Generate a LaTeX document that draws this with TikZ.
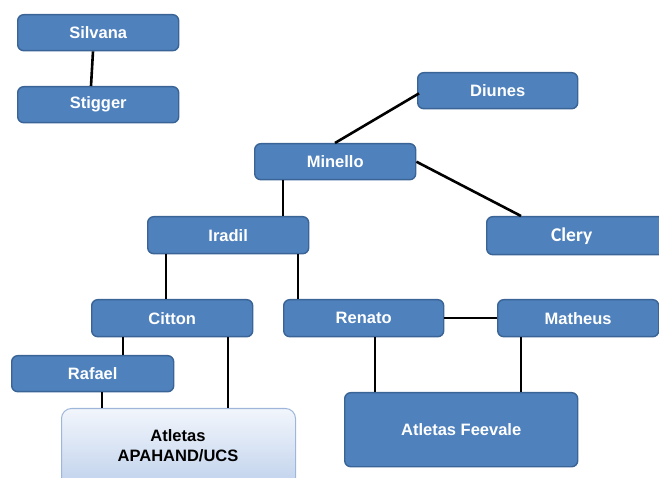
\documentclass[tikz,border=0pt]{standalone}
\usepackage{fontspec}
\setmainfont{Liberation Sans}
\newfontfamily\clfont{Carlito}
\definecolor{boxblue}{HTML}{4F81BD}
\definecolor{boxedge}{HTML}{3A6495}
\definecolor{lighttop}{HTML}{F2F6FC}
\definecolor{lightbot}{HTML}{B8CCE9}
\definecolor{lightedge}{HTML}{9DB6D9}
\begin{document}
\begin{tikzpicture}[x=1pt,y=-1pt,
  person/.style={draw=boxedge, line width=1.4pt, fill=boxblue, rounded corners=6pt, text=white, font=\fontsize{16.5}{19}\selectfont\bfseries},
  link/.style={line width=2.6pt, black}]
\useasboundingbox (0,0) rectangle (659,478);
\begin{scope}
\clip (0,0) rectangle (659,478);
\newcommand{\bx}[6]{\node[person, minimum width=#4-#2, minimum height=#5-#3, inner sep=0pt, anchor=north west] (#1) at (#2,#3) {#6};}
\bx{silvana}{17}{14}{178}{50}{Silvana}
\bx{stigger}{17}{86}{178}{122}{Stigger}
\bx{diunes}{417}{72}{577}{108}{Diunes}
\bx{minello}{254}{143}{415}{179}{Minello}
\node[person, minimum width=180, minimum height=38, inner sep=0pt, anchor=north west, font=\fontsize{19.5}{22}\selectfont\clfont\bfseries] (clery) at (486,216) {\hspace*{-10pt}Clery};
\bx{iradil}{147}{216}{308}{253}{Iradil}
\bx{citton}{91}{299}{252}{336}{Citton}
\bx{renato}{283}{299}{443}{336}{Renato}
\bx{matheus}{497}{299}{658}{336}{Matheus}
\bx{rafael}{11}{355}{173}{391}{Rafael}
\node[person, minimum width=233, minimum height=74, inner sep=0pt, anchor=north west] (feevale) at (344,392) {Atletas Feevale};
\node[draw=lightedge, line width=1pt, top color=lighttop, bottom color=lightbot, rounded corners=10pt, minimum width=234, minimum height=90, inner sep=0pt, anchor=north west] (apahand) at (61,408) {};
\node[font=\fontsize{16.5}{20}\selectfont\bfseries, align=center, text=black] (apatext) at (178,446) {Atletas\\APAHAND/UCS};
\end{scope}
\begin{scope}[on background layer/.style={}]
\draw[link] (silvana.south -| 93,0) -- (stigger.north -| 91,0);
\draw[link] (diunes.south west) ++(2,-16) -- (minello.north -| 335,0);
\draw[link] (minello.east) -- (clery.north -| 521,0);
\draw[link] (minello.south -| 283,0) -- (iradil.north -| 283,0);
\draw[link] (iradil.south -| 166,0) -- (citton.north -| 166,0);
\draw[link] (iradil.south -| 298,0) -- (renato.north -| 298,0);
\draw[link] (renato.east) -- (matheus.west);
\draw[link] (citton.south -| 123,0) -- (rafael.north -| 123,0);
\draw[link] (citton.south -| 228,0) -- (apahand.north -| 228,0);
\draw[link] (rafael.south -| 102,0) -- (apahand.north -| 102,0);
\draw[link] (renato.south -| 375,0) -- (feevale.north -| 375,0);
\draw[link] (matheus.south -| 521,0) -- (feevale.north -| 521,0);
\end{scope}
\end{tikzpicture}
\end{document}
